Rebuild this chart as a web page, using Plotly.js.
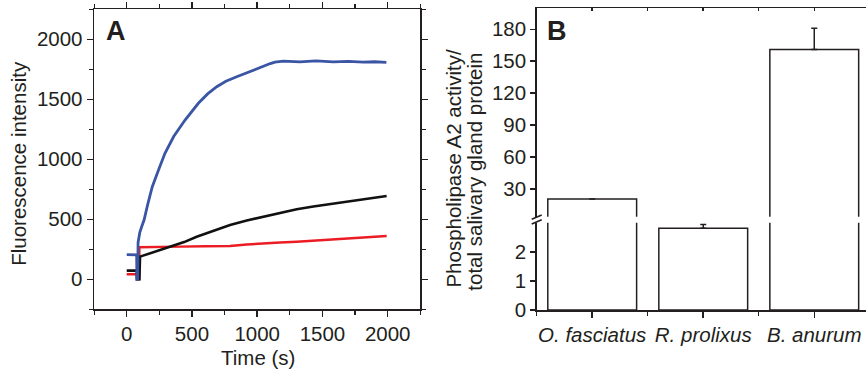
<!DOCTYPE html>
<html>
<head>
<meta charset="utf-8">
<script src="https://cdn.plot.ly/plotly-3.0.1.min.js"></script>
<style>html,body{margin:0;padding:0;background:#fff;}#chart{width:866px;height:373px;}</style>
</head>
<body>
<div id="chart"></div>
<script>
// ---- Panel A: fluorescence time courses ----
const timeBlue = [0, 40, 76, 78, 84, 87, 100, 115, 133, 160, 196, 240, 293, 360, 447, 549, 620, 690, 760, 843, 970, 1047, 1100, 1136, 1200, 1328, 1450, 1583, 1700, 1813, 1900, 1990];
const blueValues = [205, 202, 204, 0, 0, 305, 390, 440, 494, 620, 772, 900, 1050, 1190, 1327, 1467, 1545, 1605, 1650, 1688, 1744, 1772, 1798, 1810, 1818, 1812, 1820, 1812, 1816, 1810, 1813, 1808];

const timeBlack = [0, 40, 77, 79, 97, 102, 200, 332, 440, 536, 660, 792, 920, 1047, 1175, 1303, 1430, 1558, 1690, 1813, 1900, 1992];
const blackValues = [72, 70, 73, 0, 0, 189, 225, 267, 310, 355, 405, 452, 490, 522, 555, 583, 606, 627, 648, 666, 680, 694];

const timeRed = [0, 40, 77, 79, 95, 97, 200, 408, 600, 792, 920, 1047, 1175, 1303, 1430, 1558, 1690, 1813, 1900, 1992];
const redValues = [42, 43, 42, 0, 0, 267, 270, 272, 275, 278, 290, 300, 307, 313, 323, 333, 342, 350, 356, 361];

const xTicksA = [0, 500, 1000, 1500, 2000];
const yTicksA = [0, 500, 1000, 1500, 2000];

// ---- Panel B: PLA2 activity per species ----
const species = ['O. fasciatus', 'R. prolixus', 'B. anurum'];
const activity = [20.6, 2.81, 161];
const activityErr = [null, 0.13, 20];
const lowerTicks = [0, 1, 2];
const upperTicks = [30, 60, 90, 120, 150, 180];

const W = 866, H = 373;
const px = v => v / W;
const py = v => 1 - v / H;
const ink = '#231f20';
const FONT = 'Arial, "Liberation Sans", Helvetica, sans-serif';
const FS = 20.5;

const idx = species.map((s, i) => i);
const errCfg = {type: 'data', symmetric: false, array: activityErr, arrayminus: activityErr.map(e => e === null ? null : 0), color: ink, thickness: 1.5, width: 3};

const data = [
  {type: 'scatter', mode: 'lines', x: timeRed, y: redValues, xaxis: 'x', yaxis: 'y', line: {color: '#ec1c24', width: 2.4}},
  {type: 'scatter', mode: 'lines', x: timeBlack, y: blackValues, xaxis: 'x', yaxis: 'y', line: {color: '#111111', width: 2.6}},
  {type: 'scatter', mode: 'lines', x: timeBlue, y: blueValues, xaxis: 'x', yaxis: 'y', line: {color: '#3a55a4', width: 2.8}},
  {type: 'bar', x: idx, y: activity, xaxis: 'x2', yaxis: 'y2', width: 0.8, marker: {color: '#ffffff', line: {color: ink, width: 1.5}}, error_y: errCfg},
  {type: 'bar', x: idx, y: activity, xaxis: 'x3', yaxis: 'y3', width: 0.8, marker: {color: '#ffffff', line: {color: ink, width: 1.5}}, error_y: errCfg}
];

const axBase = {showgrid: false, zeroline: false, showline: true, linecolor: ink, linewidth: 1.5, tickcolor: ink, tickwidth: 1.5, tickfont: {family: FONT, size: FS, color: ink}};

const layout = {
  width: W, height: H,
  margin: {l: 0, r: 0, t: 0, b: 0},
  paper_bgcolor: '#ffffff', plot_bgcolor: 'rgba(0,0,0,0)',
  showlegend: false,
  font: {family: FONT, size: FS, color: ink},
  xaxis: Object.assign({}, axBase, {domain: [px(94.1), px(420.3)], anchor: 'y', range: [-250, 2250], tickmode: 'array', tickvals: xTicksA, ticks: 'outside', ticklen: 6, mirror: 'ticks', minor: {dtick: 250, tick0: 0, ticks: 'outside', ticklen: 4, tickcolor: ink, tickwidth: 1.2}}),
  yaxis: Object.assign({}, axBase, {domain: [py(309.3), py(9.3)], anchor: 'x', range: [-250, 2250], tickmode: 'array', tickvals: yTicksA, ticks: 'outside', ticklen: 6, mirror: 'ticks', minor: {dtick: 250, tick0: 0, ticks: 'outside', ticklen: 4, tickcolor: ink, tickwidth: 1.2}}),
  xaxis2: Object.assign({}, axBase, {domain: [px(536.7), 1], anchor: 'y2', range: [-0.5, 2.466], tickmode: 'array', tickvals: idx, ticktext: species.map(s => '<i>' + s + '</i>'), ticks: 'outside', ticklen: 6, minor: {tickvals: [-0.5, 0.5, 1.5, 2.5], ticks: 'outside', ticklen: 4, tickcolor: ink, tickwidth: 1.2}}),
  yaxis2: Object.assign({}, axBase, {domain: [py(310), py(222.7)], anchor: 'x2', range: [0, 3], tickmode: 'array', tickvals: lowerTicks, ticks: 'outside', ticklen: 5}),
  xaxis3: Object.assign({}, axBase, {domain: [px(536.7), 1], anchor: 'y3', side: 'top', matches: 'x2', range: [-0.5, 2.466], tickmode: 'array', tickvals: idx, showticklabels: false, ticks: 'inside', ticklen: 3, minor: {tickvals: [0.5, 1.5, 2.5], ticks: 'inside', ticklen: 3, tickcolor: ink, tickwidth: 1.2}}),
  yaxis3: Object.assign({}, axBase, {domain: [py(216.7), py(8)], anchor: 'x3', range: [4, 200], tickmode: 'array', tickvals: upperTicks, ticks: 'outside', ticklen: 5}),
  annotations: [
    {text: '<b>A</b>', xref: 'paper', yref: 'paper', x: px(116.5), y: py(31.5), xanchor: 'center', yanchor: 'middle', showarrow: false, font: {family: FONT, size: 27, color: ink}},
    {text: '<b>B</b>', xref: 'paper', yref: 'paper', x: px(556.7), y: py(31.5), xanchor: 'center', yanchor: 'middle', showarrow: false, font: {family: FONT, size: 27, color: ink}},
    {text: 'Fluorescence intensity', xref: 'paper', yref: 'paper', x: px(19), y: py(163.8), xanchor: 'center', yanchor: 'middle', textangle: -90, showarrow: false, font: {family: FONT, size: FS, color: ink}},
    {text: 'Time (s)', xref: 'paper', yref: 'paper', x: px(258.3), y: py(357), xanchor: 'center', yanchor: 'middle', showarrow: false, font: {family: FONT, size: FS, color: ink}},
    {text: 'Phospholipase A2 activity/', xref: 'paper', yref: 'paper', x: px(453.3), y: py(168.3), xanchor: 'center', yanchor: 'middle', textangle: -90, showarrow: false, font: {family: FONT, size: FS, color: ink}},
    {text: 'total salivary gland protein', xref: 'paper', yref: 'paper', x: px(475), y: py(171.7), xanchor: 'center', yanchor: 'middle', textangle: -90, showarrow: false, font: {family: FONT, size: FS, color: ink}}
  ],
  shapes: [
    {type: 'line', xref: 'paper', yref: 'paper', x0: px(531.7), y0: py(219.3), x1: px(541.7), y1: py(215), line: {color: ink, width: 1.5}},
    {type: 'line', xref: 'paper', yref: 'paper', x0: px(531.7), y0: py(224), x1: px(541.7), y1: py(219.7), line: {color: ink, width: 1.5}}
  ]
};

Plotly.newPlot('chart', data, layout, {staticPlot: true, displayModeBar: false});
</script>
</body>
</html>
